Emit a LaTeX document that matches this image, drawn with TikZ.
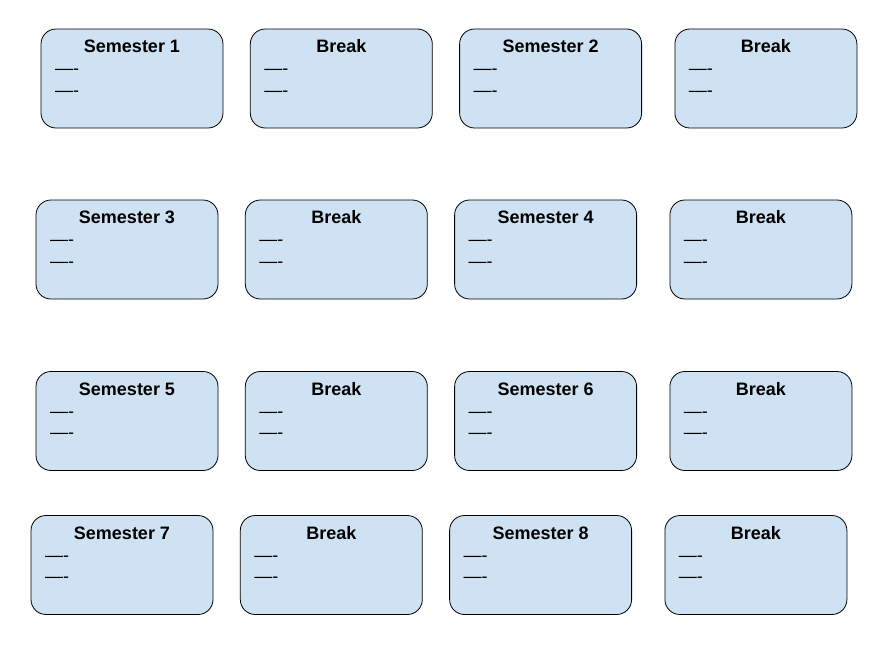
\documentclass[tikz,border=0pt]{standalone}
\usepackage{fontspec}
\setmainfont{Liberation Sans}
\usetikzlibrary{positioning}
\definecolor{termblue}{HTML}{CFE2F3}
\tikzset{term/.style={rectangle, 
rounded corners=15pt, 
draw=black, line width=0.8pt, 
fill=termblue, 
text width=154pt, inner xsep=14pt, inner ysep=0pt, 
minimum height=99pt, 
align=left, 
text height=13pt, text depth=21pt, 
font=\fontsize{18}{21.5}\selectfont, 
label={[anchor=base, yshift=-24pt, font=\fontsize{18}{21.5}\selectfont\bfseries]north:#1}}}

\begin{document}
\begin{tikzpicture}[x=1pt, y=-1pt]
\useasboundingbox (0,0) rectangle (894,646);
% year 1
\node (sem1) [term=Semester 1] at (132,78.5) {—-\\—-};
\node (brk1) [term=Break, right=26.5pt of sem1] {—-\\—-};
\node (sem2) [term=Semester 2, right=26.5pt of brk1] {—-\\—-};
\node (brk2) [term=Break, right=32.5pt of sem2] {—-\\—-};
% year 2
\node (sem3) [term=Semester 3] at (127,249.5) {—-\\—-};
\node (brk3) [term=Break, right=26.5pt of sem3] {—-\\—-};
\node (sem4) [term=Semester 4, right=26.5pt of brk3] {—-\\—-};
\node (brk4) [term=Break, right=32.5pt of sem4] {—-\\—-};
% year 3
\node (sem5) [term=Semester 5] at (127,421) {—-\\—-};
\node (brk5) [term=Break, right=26.5pt of sem5] {—-\\—-};
\node (sem6) [term=Semester 6, right=26.5pt of brk5] {—-\\—-};
\node (brk6) [term=Break, right=32.5pt of sem6] {—-\\—-};
% year 4
\node (sem7) [term=Semester 7] at (122,565) {—-\\—-};
\node (brk7) [term=Break, right=26.5pt of sem7] {—-\\—-};
\node (sem8) [term=Semester 8, right=26.5pt of brk7] {—-\\—-};
\node (brk8) [term=Break, right=32.5pt of sem8] {—-\\—-};
\end{tikzpicture}
\end{document}
